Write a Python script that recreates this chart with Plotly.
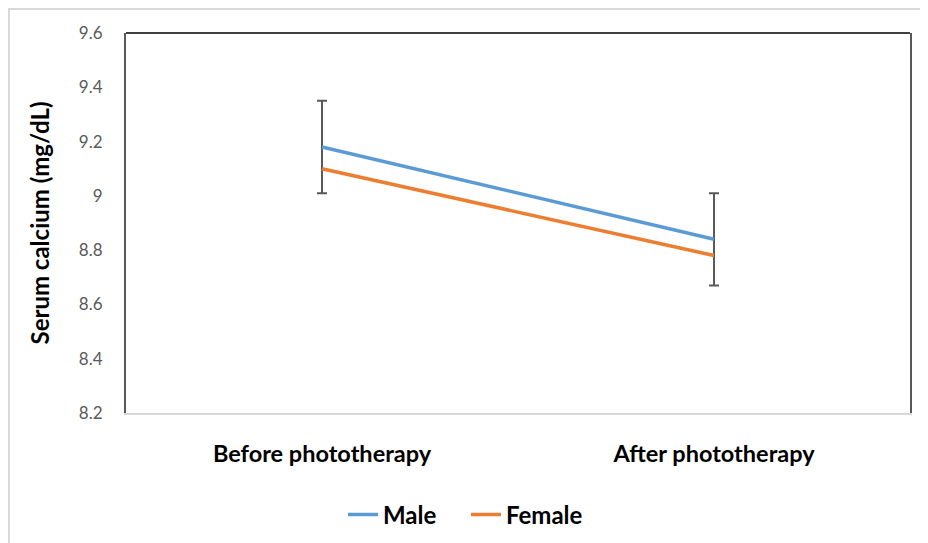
import plotly.graph_objects as go

categories = ["Before phototherapy", "After phototherapy"]
male = [9.18, 8.84]
female = [9.10, 8.78]
male_err = [0.17, 0.17]
y_ticks = [8.2, 8.4, 8.6, 8.8, 9.0, 9.2, 9.4, 9.6]
y_tick_text = ["8.2", "8.4", "8.6", "8.8", "9", "9.2", "9.4", "9.6"]

FONT = "Lato"
W, H = 928, 543
L, R, T, B = 118, 26, 25, 138
pw, ph = W - L - R, H - T - B

fig = go.Figure()
fig.add_trace(go.Scatter(
    x=categories, y=male, mode="lines", name="Male",
    line=dict(color="#5B9BD5", width=3.5),
    error_y=dict(type="data", array=male_err, visible=True,
                 color="#595959", thickness=2, width=5),
))
fig.add_trace(go.Scatter(
    x=categories, y=female, mode="lines", name="Female",
    line=dict(color="#ED7D31", width=3.5),
))

fig.update_layout(
    width=W, height=H,
    margin=dict(l=L, r=R, t=T, b=B),
    paper_bgcolor="white", plot_bgcolor="white",
    font=dict(family=FONT, color="#000000"),
    showlegend=True,
    legend=dict(orientation="h", x=(458 - L) / pw, xanchor="center",
                y=(H - B - 507) / ph, yanchor="middle",
                font=dict(size=24, weight="bold", color="#000000"),
                tracegroupgap=0, entrywidth=78),
    xaxis=dict(type="category", range=[-0.5, 1.5], showgrid=False,
               showline=True, linecolor="#d9d9d9", linewidth=2,
               ticks="", ticklabelstandoff=19,
               tickfont=dict(size=23.5, weight="bold", color="#000000")),
    yaxis=dict(range=[8.2, 9.6], tickvals=y_ticks, ticktext=y_tick_text,
               showgrid=False, zeroline=False,
               showline=True, linecolor="#595959", linewidth=2, mirror=True,
               ticks="", ticklabelstandoff=18,
               tickfont=dict(size=17, color="#595959"),
               title=dict(text="Serum calcium (mg/dL)", standoff=22,
                          font=dict(size=24, weight="bold", color="#000000"))),
    shapes=[
        dict(type="line", xref="paper", yref="paper", x0=0, x1=1, y0=1, y1=1,
             line=dict(color="#404040", width=2)),
        dict(type="rect", xref="paper", yref="paper",
             x0=(1 - L) / pw, x1=(W + 20 - L) / pw,
             y0=-(B + 20) / ph, y1=(H - B - 1) / ph,
             line=dict(color="#d9d9d9", width=2), layer="below"),
    ],
)

fig.write_html("out.html")
